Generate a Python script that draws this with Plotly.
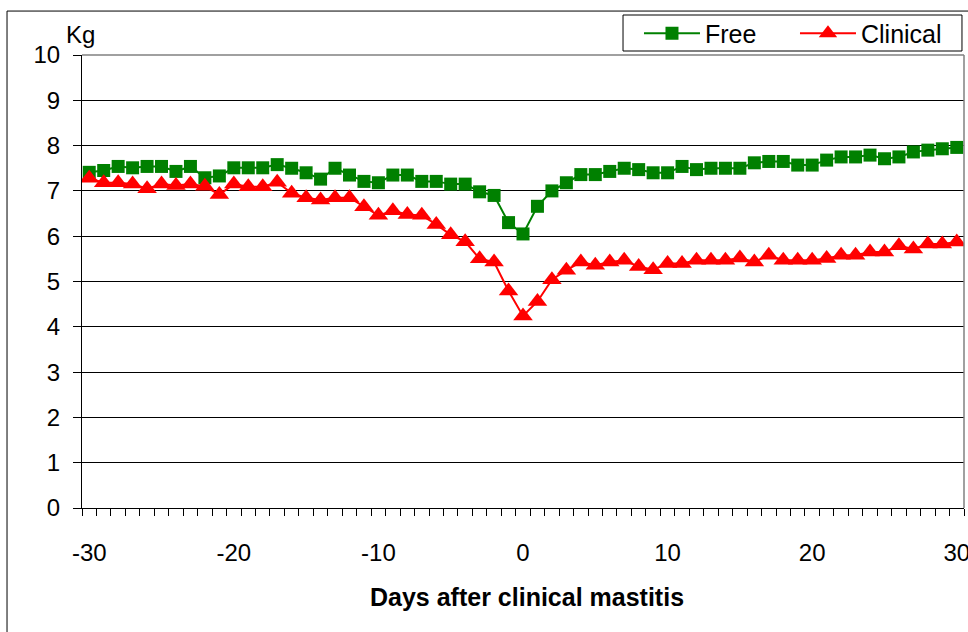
import plotly.graph_objects as go

days = [-30, -29, -28, -27, -26, -25, -24, -23, -22, -21, -20, -19, -18, -17, -16, -15,
        -14, -13, -12, -11, -10, -9, -8, -7, -6, -5, -4, -3, -2, -1, 0, 1, 2, 3, 4, 5,
        6, 7, 8, 9, 10, 11, 12, 13, 14, 15, 16, 17, 18, 19, 20, 21, 22, 23, 24, 25, 26,
        27, 28, 29, 30]

free = [7.41, 7.45, 7.54, 7.51, 7.54, 7.54, 7.43, 7.54, 7.29, 7.33, 7.51, 7.51, 7.51,
        7.58, 7.50, 7.40, 7.26, 7.50, 7.35, 7.21, 7.18, 7.35, 7.35, 7.21, 7.21, 7.15,
        7.15, 6.98, 6.90, 6.30, 6.05, 6.66, 7.00, 7.18, 7.36, 7.36, 7.43, 7.50, 7.47,
        7.40, 7.40, 7.54, 7.47, 7.50, 7.50, 7.50, 7.62, 7.65, 7.65, 7.57, 7.57, 7.68,
        7.75, 7.75, 7.79, 7.71, 7.75, 7.86, 7.90, 7.93, 7.96]

clinical = [7.28, 7.18, 7.18, 7.15, 7.05, 7.15, 7.12, 7.15, 7.10, 6.92, 7.15, 7.09, 7.09,
            7.19, 6.95, 6.85, 6.80, 6.85, 6.85, 6.65, 6.46, 6.56, 6.48, 6.46, 6.26, 6.03,
            5.88, 5.50, 5.43, 4.79, 4.24, 4.56, 5.04, 5.25, 5.43, 5.36, 5.43, 5.47, 5.33,
            5.26, 5.40, 5.40, 5.47, 5.47, 5.47, 5.52, 5.43, 5.58, 5.47, 5.47, 5.47, 5.51,
            5.58, 5.58, 5.65, 5.65, 5.79, 5.72, 5.83, 5.83, 5.87]

x_tick_vals = [-30, -20, -10, 0, 10, 20, 30]
x_tick_text = ["-30", "-20", "-10", "0", "10", "20", "30"]
y_tick_vals = [0, 1, 2, 3, 4, 5, 6, 7, 8, 9, 10]
y_tick_text = ["0", "1", "2", "3", "4", "5", "6", "7", "8", "9", "10"]

FONT = "Liberation Sans, Arial, sans-serif"

fig = go.Figure()
fig.add_trace(go.Scatter(
    x=days, y=free, name="Free", mode="lines+markers",
    line=dict(color="#008000", width=2),
    marker=dict(symbol="square", size=13, color="#008000"),
))
fig.add_trace(go.Scatter(
    x=days, y=clinical, name="Clinical", mode="lines+markers",
    line=dict(color="#FF0000", width=2),
    marker=dict(symbol="triangle-up", size=17, color="#FF0000"),
))

fig.update_layout(
    width=968, height=632,
    margin=dict(l=82, r=4, t=55, b=124, autoexpand=False),
    paper_bgcolor="white", plot_bgcolor="white",
    font=dict(family=FONT, size=24, color="black"),
    showlegend=True,
    legend=dict(
        orientation="h", x=0.6315, xanchor="left", y=1.0475, yanchor="middle",
        valign="middle", borderwidth=0, bgcolor="rgba(0,0,0,0)",
        font=dict(size=25, family=FONT), itemwidth=56,
        entrywidth=85, entrywidthmode="pixels",
    ),
    xaxis=dict(
        range=[-30.5, 30.5], tickmode="array", tickvals=x_tick_vals, ticktext=x_tick_text,
        ticks="outside", ticklen=23, tickcolor="rgba(0,0,0,0)",
        ticklabeloverflow="allow", automargin=False,
        showgrid=False, zeroline=False,
        showline=True, linecolor="black", linewidth=1,
        minor=dict(tick0=-30.5, dtick=1, ticks="outside", ticklen=7,
                   tickcolor="black", tickwidth=1, showgrid=False),
    ),
    yaxis=dict(
        range=[0, 10], tickmode="array", tickvals=y_tick_vals, ticktext=y_tick_text,
        ticks="outside", ticklen=8, tickcolor="black", automargin=False,
        showgrid=True, gridcolor="black", gridwidth=1, zeroline=False,
        showline=True, linecolor="black", linewidth=1,
        ticklabelstandoff=8,
    ),
    shapes=[
        dict(type="line", xref="paper", yref="paper", x0=0, x1=1, y0=1, y1=1,
             line=dict(color="#808080", width=1.5), layer="above"),
        dict(type="line", xref="paper", yref="paper", x0=1, x1=1, y0=0, y1=1,
             line=dict(color="#808080", width=1.5), layer="above"),
        dict(type="rect", xref="paper", yref="paper", x0=-0.085, x1=1.02, y0=-0.3, y1=1.097,
             line=dict(color="black", width=1), layer="below"),
        dict(type="rect", xref="paper", yref="paper", x0=0.6134, x1=0.9977, y0=1.0088, y1=1.0883,
             line=dict(color="black", width=1), fillcolor="white", layer="below"),
    ],
    annotations=[
        dict(text="Kg", xref="paper", yref="paper", x=-0.002, y=1.046,
             showarrow=False, font=dict(size=24, family=FONT), xanchor="center", yanchor="middle"),
        dict(text="<b>Days after clinical mastitis</b>", xref="paper", yref="paper",
             x=0.505, y=-0.196, showarrow=False, font=dict(size=25, family=FONT),
             xanchor="center", yanchor="middle"),
    ],
)

fig.write_html("out.html", config={"displayModeBar": False},
               post_script="document.body.style.margin='0';")
